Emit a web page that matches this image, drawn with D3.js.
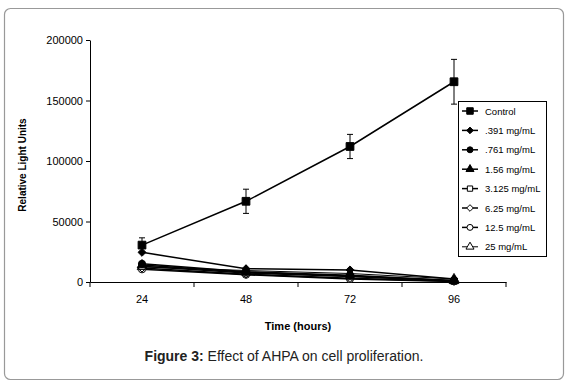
<!DOCTYPE html>
<html>
<head>
<meta charset="utf-8">
<script src="https://cdn.jsdelivr.net/npm/d3@7"></script>
<style>
  body { margin: 0; background: #fff; }
  text { font-family: "Liberation Sans", Arial, sans-serif; }
</style>
</head>
<body>
<div id="chart"></div>
<script>
// Daten
const hours = ["24", "48", "72", "96"];
const yTicks = [0, 50000, 100000, 150000, 200000];
const seriesNames = ["Control", ".391 mg/mL", ".761 mg/mL", "1.56 mg/mL", "3.125 mg/mL", "6.25 mg/mL", "12.5 mg/mL", "25 mg/mL"];
const control = [30500, 66700, 112000, 165500];
const controlErr = [6000, 10000, 10000, 18500];
const c391 = [24500, 11000, 10000, 2500];
const c761 = [15000, 8500, 5500, 1200];
const c156 = [14000, 8000, 5000, 1000];
const c3125 = [13000, 7500, 4500, 800];
const c625 = [11500, 6500, 3000, 600];
const c125 = [10500, 6000, 2500, 500];
const c25 = [12500, 9500, 7000, 2500];

const seriesValues = [control, c391, c761, c156, c3125, c625, c125, c25];
const symbols = [d3.symbolSquare, d3.symbolDiamond2, d3.symbolCircle, d3.symbolTriangle,
                 d3.symbolSquare, d3.symbolDiamond2, d3.symbolCircle, d3.symbolTriangle];
const filled = [true, true, true, true, false, false, false, false];
const sizes = [60, 40, 40, 40, 40, 40, 40, 40];

const W = 568, H = 390;
const svg = d3.select("#chart").append("svg")
    .attr("width", W).attr("height", H);

// Rahmen
svg.append("rect")
    .attr("x", 4.5).attr("y", 8.5)
    .attr("width", 559).attr("height", 371)
    .attr("rx", 6)
    .attr("fill", "none")
    .attr("stroke", "#999")
    .attr("stroke-width", 1.2);

const x = d3.scaleBand().domain(hours).range([90, 506]);
const y = d3.scaleLinear().domain([0, 200000]).range([282, 40]);

// Achsen
const xAxis = svg.append("g")
    .attr("transform", "translate(0,282)")
    .call(d3.axisBottom(x).tickSize(0).tickPadding(13));
xAxis.select(".domain").attr("stroke", "#000");
xAxis.selectAll("text").attr("font-size", 11).attr("fill", "#000");
// Zwischen-Ticks an den Kategoriengrenzen
svg.append("g").selectAll("line")
    .data(d3.range(hours.length + 1))
    .enter().append("line")
    .attr("x1", i => 90 + i * x.step()).attr("x2", i => 90 + i * x.step())
    .attr("y1", 282).attr("y2", 287)
    .attr("stroke", "#000");

const yAxis = svg.append("g")
    .attr("transform", "translate(90,0)")
    .call(d3.axisLeft(y).tickValues(yTicks).tickFormat(d3.format("d")).tickSize(4).tickSizeOuter(0).tickPadding(3));
yAxis.select(".domain").attr("stroke", "#000");
yAxis.selectAll("text").attr("font-size", 11).attr("fill", "#000");

svg.append("text")
    .attr("x", 298).attr("y", 330)
    .attr("text-anchor", "middle")
    .attr("font-size", 11).attr("font-weight", "bold")
    .text("Time (hours)");

svg.append("text")
    .attr("transform", "translate(26,165) rotate(-90)")
    .attr("text-anchor", "middle")
    .attr("font-size", 10).attr("font-weight", "bold")
    .text("Relative Light Units");

// Fehlerbalken (Control)
const cx = d => x(d) + x.bandwidth() / 2;
const eb = svg.append("g").attr("stroke", "#000").attr("stroke-width", 1);
hours.forEach((h, i) => {
    const lo = y(control[i] - controlErr[i]), hi = y(control[i] + controlErr[i]);
    eb.append("line").attr("x1", cx(h)).attr("x2", cx(h)).attr("y1", lo).attr("y2", hi);
    eb.append("line").attr("x1", cx(h) - 3).attr("x2", cx(h) + 3).attr("y1", lo).attr("y2", lo);
    eb.append("line").attr("x1", cx(h) - 3).attr("x2", cx(h) + 3).attr("y1", hi).attr("y2", hi);
});

// Linien + Marker (von hinten nach vorne)
const line = d3.line().x((d, i) => cx(hours[i])).y(d => y(d));
for (let s = seriesValues.length - 1; s >= 0; s--) {
    svg.append("path")
        .datum(seriesValues[s])
        .attr("d", line)
        .attr("fill", "none")
        .attr("stroke", "#000")
        .attr("stroke-width", s === 7 ? 1 : 1.5);
    svg.append("g").selectAll("path")
        .data(seriesValues[s])
        .enter().append("path")
        .attr("transform", (d, i) => `translate(${cx(hours[i])},${y(d)})`)
        .attr("d", d3.symbol().type(symbols[s]).size(sizes[s]))
        .attr("fill", filled[s] ? "#000" : "#fff")
        .attr("stroke", "#000")
        .attr("stroke-width", 1);
}

// Legende
const lg = svg.append("g");
lg.append("rect")
    .attr("x", 458.5).attr("y", 101.5)
    .attr("width", 88).attr("height", 155)
    .attr("fill", "#fff").attr("stroke", "#000");
seriesNames.forEach((name, i) => {
    const ly = 111 + i * 19.4;
    lg.append("line")
        .attr("x1", 462).attr("x2", 478).attr("y1", ly).attr("y2", ly)
        .attr("stroke", "#000").attr("stroke-width", i === 7 ? 1 : 1.5);
    lg.append("path")
        .attr("transform", `translate(470,${ly})`)
        .attr("d", d3.symbol().type(symbols[i]).size(sizes[i] * 0.7))
        .attr("fill", filled[i] ? "#000" : "#fff")
        .attr("stroke", "#000");
    lg.append("text")
        .attr("x", 485).attr("y", ly + 3.5)
        .attr("font-size", 9.5)
        .text(name);
});

// Bildunterschrift
const cap = svg.append("text")
    .attr("x", 284).attr("y", 361)
    .attr("text-anchor", "middle")
    .attr("font-size", 14)
    .attr("fill", "#222");
cap.append("tspan").attr("font-weight", "bold").text("Figure 3:");
cap.append("tspan").text(" Effect of AHPA on cell proliferation.");
</script>
</body>
</html>
